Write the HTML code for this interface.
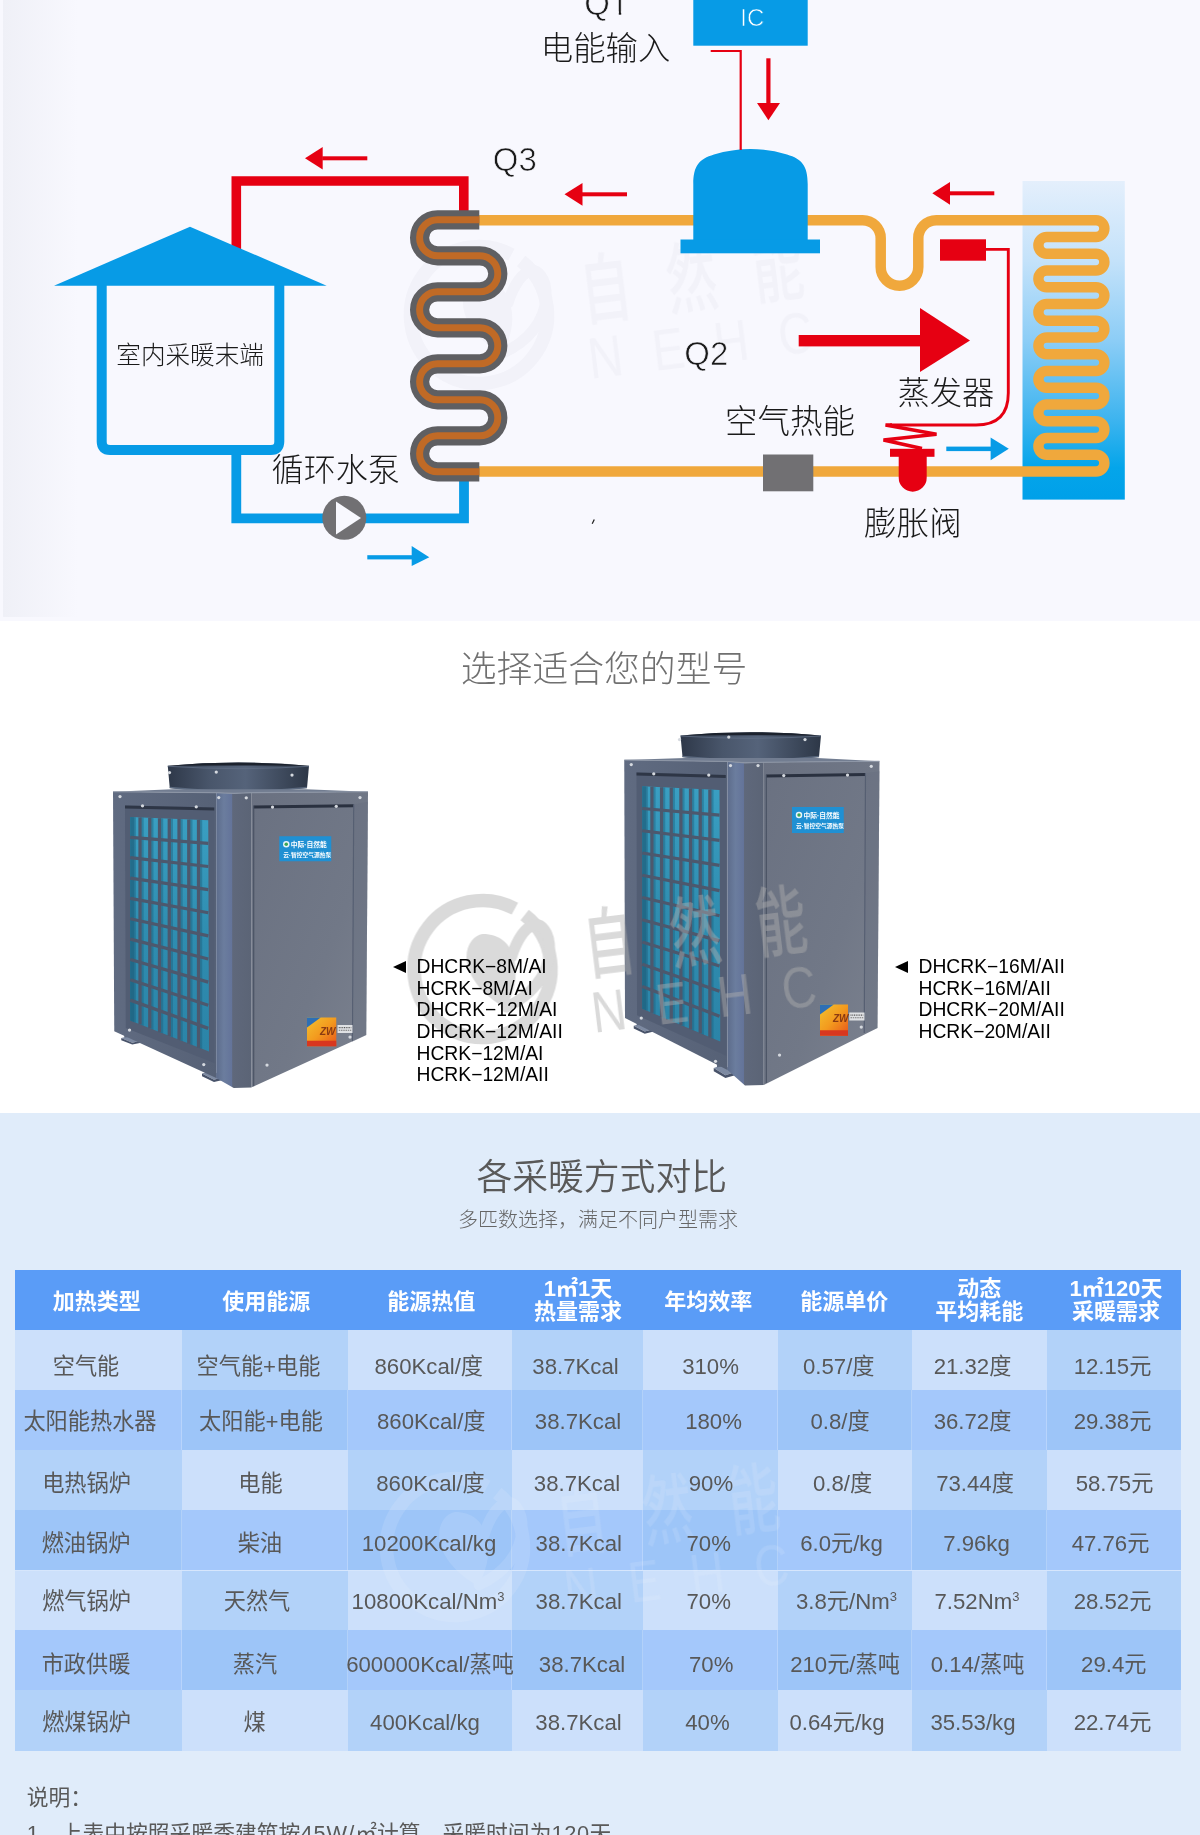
<!DOCTYPE html>
<html lang="zh-CN"><head><meta charset="utf-8"><title>空气能热泵采暖</title>
<style>
html,body{margin:0;padding:0}
body{width:1200px;height:1835px;position:relative;overflow:hidden;background:#fff;font-family:"Liberation Sans", "Noto Sans CJK SC", sans-serif;}
.sec{position:absolute;left:0;width:1200px;overflow:hidden}
#s1{top:0;height:621px;background:#f8f8fe}
#s2{top:621px;height:491px;background:#fff}
#s3{top:1112px;height:723px;background:#e0ecfa}
.ttl{position:absolute;left:0;width:1200px;text-align:center;font-weight:350;white-space:nowrap}
.mdl{position:absolute;font-size:19.3px;line-height:20px;color:#000;white-space:nowrap;font-family:"Liberation Sans", "Noto Sans CJK SC", sans-serif}
.tri{position:absolute;width:0;height:0;border-top:6.2px solid transparent;border-bottom:6.2px solid transparent;border-right:13.3px solid #000}
.th{position:absolute;width:200px;height:60px;display:flex;align-items:center;justify-content:center;text-align:center;color:#fff;font-weight:700;font-size:22px;line-height:22.6px;white-space:nowrap}
.th span{display:block;position:relative;top:1.8px}
.th span.two{top:0.5px}
.td{position:absolute;width:220px;height:40px;line-height:40px;text-align:center;color:#585858;font-size:22.2px;white-space:nowrap}
.td sup{font-size:13px;line-height:0;vertical-align:8px}
.note{position:absolute;left:26.7px;font-size:21.8px;color:#595959;white-space:nowrap;line-height:30px}
</style></head>
<body>
<div class="sec" id="s1">
<svg width="1200" height="621" viewBox="0 0 1200 621" style="position:absolute;left:0;top:0"><g transform="translate(479,315)" fill="#a0a0b0" stroke="none" opacity="0.065">
<circle cx="0" cy="0" r="68.5" fill="none" stroke="#a0a0b0" stroke-width="13.5" stroke-dasharray="418 12" transform="rotate(-52)"/>
<path d="M0,-35 C-8,-34 -16,-25 -16,-12 C-16,5 -2,25 23,39 C34,20 36,0 30,-14 C27,-25 18,-35 0,-35 Z"/>
<path d="M24,38 C48,27 66,7 67,-18 C68,-38 58,-46 51,-44 C42,-41 34,-28 29,-12" fill="none" stroke="#a0a0b0" stroke-width="11" stroke-linecap="round"/>
<g transform="rotate(-7)">
<text transform="scale(1,1.5)" x="103.5" y="11.3" font-size="51" letter-spacing="35.5" font-weight="500" font-family="Liberation Sans, Noto Sans CJK SC, sans-serif">自然能</text>
<text transform="scale(1,1.2)" x="103" y="64.4" font-size="48" letter-spacing="30.1" font-family="Liberation Sans, Noto Sans CJK SC, sans-serif">NEHC</text>
</g>
</g></svg>
<svg width="1200" height="621" viewBox="0 0 1200 621" style="position:absolute;left:0;top:0">
<defs><linearGradient id="evg" x1="0" y1="0" x2="0" y2="1"><stop offset="0" stop-color="#e4effc"/><stop offset="0.25" stop-color="#c4e2fa"/><stop offset="0.5" stop-color="#8ccdf6"/><stop offset="0.75" stop-color="#3db4ef"/><stop offset="0.9" stop-color="#04a5ea"/><stop offset="1" stop-color="#00a0e9"/></linearGradient><linearGradient id="lg" x1="0" y1="0" x2="1" y2="0"><stop offset="0" stop-color="#eff0f7"/><stop offset="1" stop-color="#f8f8fe"/></linearGradient></defs>
<rect x="3" y="0" width="75" height="617" fill="url(#lg)"/>
<rect x="1022.5" y="181" width="102.3" height="318.6" fill="url(#evg)"/>
<path d="M479,220.20 H862.7 A18,18 0 0 1 880.7,238.20 V267 A18.8,18.8 0 0 0 918.3,267 V238.20 A18,18 0 0 1 936.3,220.20 H1096.0 A8.37,8.37 0 0 1 1096.0,236.95 H1046.8 A8.37,8.37 0 0 0 1046.8,253.69 H1096.0 A8.37,8.37 0 0 1 1096.0,270.44 H1046.8 A8.37,8.37 0 0 0 1046.8,287.19 H1096.0 A8.37,8.37 0 0 1 1096.0,303.93 H1046.8 A8.37,8.37 0 0 0 1046.8,320.68 H1096.0 A8.37,8.37 0 0 1 1096.0,337.43 H1046.8 A8.37,8.37 0 0 0 1046.8,354.17 H1096.0 A8.37,8.37 0 0 1 1096.0,370.92 H1046.8 A8.37,8.37 0 0 0 1046.8,387.67 H1096.0 A8.37,8.37 0 0 1 1096.0,404.41 H1046.8 A8.37,8.37 0 0 0 1046.8,421.16 H1096.0 A8.37,8.37 0 0 1 1096.0,437.91 H1046.8 A8.37,8.37 0 0 0 1046.8,454.65 H1096.0 A8.37,8.37 0 0 1 1096.0,471.40 H479" fill="none" stroke="#f0a83c" stroke-width="10.5"/>
<path d="M236.3,262 V181 H463.8 V212" fill="none" stroke="#e60012" stroke-width="9.6" stroke-linejoin="miter"/>
<path d="M236.3,452 V518.4 H464 V480" fill="none" stroke="#079be6" stroke-width="9.8" stroke-linejoin="miter"/>
<path d="M479.3,219.80 H437.6 A18,18 0 0 0 437.6,255.80 H479.8 A18,18 0 0 1 479.8,291.80 H437.6 A18,18 0 0 0 437.6,327.80 H479.8 A18,18 0 0 1 479.8,363.80 H437.6 A18,18 0 0 0 437.6,399.80 H479.8 A18,18 0 0 1 479.8,435.80 H437.6 A18,18 0 0 0 437.6,471.80 H479.3" fill="none" stroke="#5f5f62" stroke-width="19.2"/>
<path d="M479.3,219.80 H437.6 A18,18 0 0 0 437.6,255.80 H479.8 A18,18 0 0 1 479.8,291.80 H437.6 A18,18 0 0 0 437.6,327.80 H479.8 A18,18 0 0 1 479.8,363.80 H437.6 A18,18 0 0 0 437.6,399.80 H479.8 A18,18 0 0 1 479.8,435.80 H437.6 A18,18 0 0 0 437.6,471.80 H479.3" fill="none" stroke="#c06a26" stroke-width="7"/>
<path d="M101.7,284 V441.5 Q101.7,450 110.2,450 H270.8 Q279.3,450 279.3,441.5 V284" fill="none" stroke="#079be6" stroke-width="10"/>
<polygon points="190,226.7 54,285.7 326.7,285.7" fill="#079be6"/>
<circle cx="344.3" cy="517.8" r="22" fill="#717073"/><polygon points="336,501.5 336,534.5 361,518" fill="#f8f8fe"/>
<rect x="693.3" y="0" width="114.4" height="45.7" fill="#079be6"/>
<path d="M693.3,240 V184 C693.3,166 699,159 714,154.5 Q750.5,143.5 787,154.5 C802,159 807.7,166 807.7,184 V240 Z" fill="#079be6"/>
<rect x="680.5" y="239.5" width="139.5" height="13.8" fill="#079be6"/>
<path d="M710.7,51 H740.7 V150" fill="none" stroke="#e60012" stroke-width="2.2"/>
<rect x="766.3" y="58.3" width="4.2" height="46" fill="#e60012"/><polygon points="757,103 780,103 768.4,120.3" fill="#e60012"/>
<polygon fill="#e60012" points="305,158.3 322.7,147.10000000000002 322.7,169.5"/><rect fill="#e60012" x="322.2" y="156.3" width="45.10000000000002" height="4"/>
<polygon fill="#e60012" points="564.5,194.3 582.5,182.9 582.5,205.70000000000002"/><rect fill="#e60012" x="582.0" y="192.3" width="45.0" height="4"/>
<polygon fill="#e60012" points="932.3,193.3 950,181.9 950,204.70000000000002"/><rect fill="#e60012" x="949.5" y="191.3" width="44.799999999999955" height="4"/>
<rect x="367.3" y="555.2" width="45" height="4.2" fill="#079be6"/><polygon points="411.7,546 411.7,566 429.3,557.3" fill="#079be6"/>
<rect x="946.3" y="446.6" width="45" height="4.5" fill="#079be6"/><polygon points="990.6,437.5 990.6,460.3 1008.8,448.8" fill="#079be6"/>
<rect x="798.7" y="335" width="122" height="11.4" fill="#e60012"/><polygon points="920,308 920,372 970,340.5" fill="#e60012"/>
<rect x="940" y="239.3" width="46" height="21.4" fill="#e60012"/>
<path d="M986,249.4 H1008.3 V393 Q1008.3,425 976,425 H890" fill="none" stroke="#e60012" stroke-width="2.9" stroke-linejoin="miter"/>
<path d="M892,425 H885.5 L936.5,434.2 L883.5,440 L922,448.6" fill="none" stroke="#e60012" stroke-width="3.6" stroke-linejoin="miter"/>
<rect x="890" y="448.8" width="44.5" height="8" fill="#e60012"/><path d="M898.7,456 V477.7 A14,14 0 0 0 926.7,477.7 V456 Z" fill="#e60012"/>
<rect x="763" y="454.5" width="50.3" height="36.8" fill="#717073"/>
<path d="M594.3,519.5 L592.2,523.8" stroke="#222" stroke-width="1.3" fill="none"/>
<text x="584.3" y="15" font-size="33" font-family="Liberation Sans, Noto Sans CJK SC, sans-serif" fill="#1a1a1a" stroke="#f8f8fe" stroke-width="0.7">Q1</text>
<rect x="612" y="11.4" width="6.8" height="4.8" fill="#f8f8fe"/><rect x="621.2" y="11.4" width="6.6" height="4.8" fill="#f8f8fe"/>
<text x="492.8" y="171.3" font-size="33" font-family="Liberation Sans, Noto Sans CJK SC, sans-serif" fill="#1a1a1a" stroke="#f8f8fe" stroke-width="0.7">Q3</text>
<text x="684.3" y="364.5" font-size="33" font-family="Liberation Sans, Noto Sans CJK SC, sans-serif" fill="#1a1a1a" stroke="#f8f8fe" stroke-width="0.7">Q2</text>
<text x="540.8" y="59.9" font-size="32.4" font-family="Liberation Sans, Noto Sans CJK SC, sans-serif" fill="#1a1a1a" font-weight="300">电能输入</text>
<text x="116.3" y="363.6" font-size="24.6" font-family="Liberation Sans, Noto Sans CJK SC, sans-serif" fill="#1a1a1a" font-weight="300">室内采暖末端</text>
<text x="271.6" y="481.3" font-size="32.1" font-family="Liberation Sans, Noto Sans CJK SC, sans-serif" fill="#1a1a1a" font-weight="300">循环水泵</text>
<text x="724.9" y="433.2" font-size="32.5" font-family="Liberation Sans, Noto Sans CJK SC, sans-serif" fill="#1a1a1a" font-weight="300">空气热能</text>
<text x="897.5" y="403.6" font-size="32.3" font-family="Liberation Sans, Noto Sans CJK SC, sans-serif" fill="#1a1a1a" font-weight="300">蒸发器</text>
<text x="864" y="534.6" font-size="32.6" font-family="Liberation Sans, Noto Sans CJK SC, sans-serif" fill="#1a1a1a" font-weight="300">膨胀阀</text>
<text x="752.3" y="26.2" font-size="24" text-anchor="middle" fill="#fff" stroke="#079be6" stroke-width="0.6" font-family="Liberation Sans, Noto Sans CJK SC, sans-serif">IC</text>
</svg>
</div>
<div class="sec" id="s2">
<div class="ttl" style="top:22.500000000000046px;left:4px;font-size:35.8px;line-height:52px;color:#707070;font-weight:300">选择适合您的型号</div>
<svg width="1200" height="491" viewBox="0 621 1200 491" style="position:absolute;left:0;top:0"><g transform="translate(90,740) scale(0.25)">
<defs>
<linearGradient id="u1L" x1="0" y1="0" x2="1" y2="0"><stop offset="0" stop-color="#606b81"/><stop offset="1" stop-color="#566176"/></linearGradient>
<linearGradient id="u1R" x1="0" y1="0" x2="1" y2="1"><stop offset="0" stop-color="#6a7181"/><stop offset="0.6" stop-color="#717887"/><stop offset="1" stop-color="#7c828f"/></linearGradient>
<linearGradient id="u1P" x1="0" y1="0" x2="1" y2="0"><stop offset="0" stop-color="#5d6c8b"/><stop offset="0.22" stop-color="#6b7d9e"/><stop offset="0.44" stop-color="#64749a"/><stop offset="0.47" stop-color="#5f687b"/><stop offset="1" stop-color="#5b6476"/></linearGradient>
<linearGradient id="u1F" x1="0" y1="0" x2="1" y2="0"><stop offset="0" stop-color="#2e3849"/><stop offset="0.3" stop-color="#49566b"/><stop offset="0.55" stop-color="#55637a"/><stop offset="0.8" stop-color="#3f4b5e"/><stop offset="1" stop-color="#2d3747"/></linearGradient>
<linearGradient id="u1G" x1="0" y1="0" x2="0" y2="1"><stop offset="0" stop-color="#3a9fc2"/><stop offset="0.5" stop-color="#2f8db0"/><stop offset="1" stop-color="#2b84a8"/></linearGradient>
<linearGradient id="u1S" x1="0" y1="0" x2="1" y2="1"><stop offset="0" stop-color="#f2c230"/><stop offset="0.5" stop-color="#f39a1e"/><stop offset="1" stop-color="#e9541a"/></linearGradient>
</defs>
<polygon points="125.0,1191.8 161.0,1183.0 205.0,1202.2 169.0,1211.0" fill="#7d8aa2"/>
<polygon points="125.0,1191.8 169.0,1211.0 205.0,1202.2 205.0,1211.0 169.0,1218.0 125.0,1200.5" fill="#48536a"/>
<polygon points="137.0,1170.8 161.0,1167.2 161.0,1188.2 137.0,1190.0" fill="#5a667d"/>
<polygon points="448.0,1333.5 487.1,1322.0 535.0,1347.3 495.9,1358.8" fill="#7d8aa2"/>
<polygon points="448.0,1333.5 495.9,1358.8 535.0,1347.3 535.0,1358.8 495.9,1368.0 448.0,1345.0" fill="#48536a"/>
<polygon points="461.1,1305.9 487.1,1301.3 487.1,1328.9 461.1,1331.2" fill="#5a667d"/>
<path d="M311,103 L319,192 Q593.5,222 868,192 L876,103 Q593.5,77 311,103 Z" fill="url(#u1F)"/>
<path d="M311,103 Q593.5,77 876,103 Q593.5,101 311,103 Z" fill="#1c222d"/>
<path d="M311,105 Q593.5,123 876,105" fill="none" stroke="#5f6d83" stroke-width="5" opacity="0.8"/>
<path d="M319,190 Q593.5,220 868,190" fill="none" stroke="#5a687e" stroke-width="6"/>
<polygon points="92.0,207.0 330.0,197.0 862.0,197.0 1112.0,207.0 645.0,211.0 575.0,213.0 505.0,211.0" fill="#727d91"/>
<polygon points="92.0,207.0 505.0,211.0 505.0,1352.0 97.0,1165.0" fill="url(#u1L)"/>
<polygon points="505.0,211.0 575.0,213.0 645.0,211.0 645.0,1390.0 575.0,1392.0 505.0,1352.0" fill="url(#u1P)"/>
<polygon points="645.0,211.0 1112.0,207.0 1105.0,1180.0 645.0,1390.0" fill="url(#u1R)"/>
<polyline points="92.0,207.0 505.0,211.0 575.0,213.0 645.0,211.0 1112.0,207.0" fill="none" stroke="#8d96a6" stroke-width="5"/>
<polygon points="655.0,262.0 1055.0,257.0 1055.0,269.0 655.0,274.0" fill="#2a3140"/>
<polyline points="1055.0,257.0 1050.0,1205.0" fill="none" stroke="#565f72" stroke-width="5"/>
<polyline points="655.0,262.0 655.0,1385.0" fill="none" stroke="#434c5e" stroke-width="4"/>
<polygon points="1059.0,257.0 1112.0,247.0 1105.0,1180.0 1054.0,1205.0" fill="#646c7e" opacity="0.35"/>
<polygon points="140.0,262.0 497.0,270.0 497.0,1292.0 143.0,1152.0" fill="#525d73"/>
<polygon points="140.0,262.0 497.0,270.0 497.0,282.0 140.0,274.0" fill="#2e3646"/>
<polygon points="161.0,308.0 473.0,321.0 476.0,1246.0 161.0,1122.0" fill="url(#u1G)"/>
<polygon points="161.0,308.0 183.0,308.9 183.0,1130.7 161.0,1122.0" fill="#1f5f7c" opacity="0.55"/>
<polygon points="161.0,308.0 175.8,308.6 175.8,1127.9 161.0,1122.0" fill="#1d5f7d" opacity="0.45"/>
<polygon points="200.0,309.6 214.8,310.2 214.8,1143.4 200.0,1137.5" fill="#1d5f7d" opacity="0.45"/>
<polygon points="239.0,311.2 253.8,311.9 253.8,1158.9 239.0,1153.0" fill="#1d5f7d" opacity="0.45"/>
<polygon points="278.0,312.9 292.8,313.5 292.8,1174.4 278.0,1168.5" fill="#1d5f7d" opacity="0.45"/>
<polygon points="317.0,314.5 331.8,315.1 331.8,1189.9 317.0,1184.0" fill="#1d5f7d" opacity="0.45"/>
<polygon points="356.0,316.1 370.8,316.7 370.8,1205.4 356.0,1199.5" fill="#1d5f7d" opacity="0.45"/>
<polygon points="395.0,317.8 409.8,318.4 409.8,1220.9 395.0,1215.0" fill="#1d5f7d" opacity="0.45"/>
<polygon points="434.0,319.4 448.8,320.0 448.8,1236.4 434.0,1230.5" fill="#1d5f7d" opacity="0.45"/>
<line x1="200.0" y1="309.6" x2="200.0" y2="1137.5" stroke="#4d586d" stroke-width="13"/>
<line x1="239.0" y1="311.2" x2="239.0" y2="1153.0" stroke="#4d586d" stroke-width="13"/>
<line x1="278.0" y1="312.9" x2="278.0" y2="1168.5" stroke="#4d586d" stroke-width="13"/>
<line x1="317.0" y1="314.5" x2="317.0" y2="1184.0" stroke="#4d586d" stroke-width="13"/>
<line x1="356.0" y1="316.1" x2="356.0" y2="1199.5" stroke="#4d586d" stroke-width="13"/>
<line x1="395.0" y1="317.8" x2="395.0" y2="1215.0" stroke="#4d586d" stroke-width="13"/>
<line x1="434.0" y1="319.4" x2="434.0" y2="1230.5" stroke="#4d586d" stroke-width="13"/>
<line x1="161" y1="389.4" x2="473" y2="413.5" stroke="#4d586d" stroke-width="13"/>
<line x1="161" y1="470.8" x2="473" y2="506.0" stroke="#4d586d" stroke-width="13"/>
<line x1="161" y1="552.2" x2="473" y2="598.5" stroke="#4d586d" stroke-width="13"/>
<line x1="161" y1="633.6" x2="473" y2="691.0" stroke="#4d586d" stroke-width="13"/>
<line x1="161" y1="715.0" x2="473" y2="783.5" stroke="#4d586d" stroke-width="13"/>
<line x1="161" y1="796.4" x2="473" y2="876.0" stroke="#4d586d" stroke-width="13"/>
<line x1="161" y1="877.8" x2="473" y2="968.5" stroke="#4d586d" stroke-width="13"/>
<line x1="161" y1="959.2" x2="473" y2="1061.0" stroke="#4d586d" stroke-width="13"/>
<line x1="161" y1="1040.6" x2="473" y2="1153.5" stroke="#4d586d" stroke-width="13"/>
<rect x="757" y="385" width="208" height="100" fill="#1f90d3"/>
<circle cx="785" cy="417" r="13" fill="#e8f4fb"/><circle cx="785" cy="417" r="7" fill="#3aa655"/>
<text x="803" y="427" font-size="27" font-weight="700" fill="#fff" font-family="Liberation Sans, Noto Sans CJK SC, sans-serif">中际·自然能</text>
<text x="773" y="469" font-size="23" font-weight="700" fill="#fff" font-family="Liberation Sans, Noto Sans CJK SC, sans-serif">云·智控空气源热泵</text>
<rect x="868" y="1110" width="117" height="115" fill="url(#u1S)"/>
<polygon points="868.0,1110.0 923.0,1110.0 868.0,1150.0" fill="#2d6fb5"/>
<rect x="868" y="1203" width="117" height="22" fill="#d8371f"/>
<text x="920" y="1178" font-size="40" font-weight="700" font-style="italic" fill="#8a3a12" font-family="Liberation Sans, Noto Sans CJK SC, sans-serif">ZW</text>
<rect x="990" y="1140" width="60" height="32" fill="#dfe1e4"/>
<line x1="995" y1="1150" x2="1045" y2="1150" stroke="#555" stroke-width="5" stroke-dasharray="4 3"/>
<line x1="995" y1="1161" x2="1045" y2="1161" stroke="#777" stroke-width="4" stroke-dasharray="6 3"/>
<circle cx="120" cy="226" r="6.5" fill="#d5d9df"/>
<circle cx="515" cy="230" r="6.5" fill="#d5d9df"/>
<circle cx="625" cy="231" r="6.5" fill="#d5d9df"/>
<circle cx="1080" cy="230" r="6.5" fill="#d5d9df"/>
<circle cx="210" cy="263" r="6.5" fill="#d5d9df"/>
<circle cx="425" cy="267" r="6.5" fill="#d5d9df"/>
<circle cx="730" cy="268" r="6.5" fill="#d5d9df"/>
<circle cx="985" cy="265" r="6.5" fill="#d5d9df"/>
<circle cx="505" cy="128" r="6.5" fill="#d5d9df"/>
<circle cx="808" cy="140" r="6.5" fill="#d5d9df"/>
<circle cx="318" cy="130" r="6.5" fill="#d5d9df"/>
<circle cx="158" cy="1160" r="6.5" fill="#d5d9df"/>
<circle cx="455" cy="1298" r="6.5" fill="#d5d9df"/>
<circle cx="708" cy="1300" r="6.5" fill="#d5d9df"/>
<circle cx="1040" cy="1188" r="6.5" fill="#d5d9df"/>
</g><g transform="translate(600,710) scale(0.25)">
<defs>
<linearGradient id="u2L" x1="0" y1="0" x2="1" y2="0"><stop offset="0" stop-color="#606b81"/><stop offset="1" stop-color="#566176"/></linearGradient>
<linearGradient id="u2R" x1="0" y1="0" x2="1" y2="1"><stop offset="0" stop-color="#6a7181"/><stop offset="0.6" stop-color="#717887"/><stop offset="1" stop-color="#7c828f"/></linearGradient>
<linearGradient id="u2P" x1="0" y1="0" x2="1" y2="0"><stop offset="0" stop-color="#5d6c8b"/><stop offset="0.22" stop-color="#6b7d9e"/><stop offset="0.44" stop-color="#64749a"/><stop offset="0.47" stop-color="#5f687b"/><stop offset="1" stop-color="#5b6476"/></linearGradient>
<linearGradient id="u2F" x1="0" y1="0" x2="1" y2="0"><stop offset="0" stop-color="#2e3849"/><stop offset="0.3" stop-color="#49566b"/><stop offset="0.55" stop-color="#55637a"/><stop offset="0.8" stop-color="#3f4b5e"/><stop offset="1" stop-color="#2d3747"/></linearGradient>
<linearGradient id="u2G" x1="0" y1="0" x2="0" y2="1"><stop offset="0" stop-color="#3a9fc2"/><stop offset="0.5" stop-color="#2f8db0"/><stop offset="1" stop-color="#2b84a8"/></linearGradient>
<linearGradient id="u2S" x1="0" y1="0" x2="1" y2="1"><stop offset="0" stop-color="#f2c230"/><stop offset="0.5" stop-color="#f39a1e"/><stop offset="1" stop-color="#e9541a"/></linearGradient>
</defs>
<polygon points="135.0,1262.8 171.0,1252.0 215.0,1275.7 179.0,1286.4" fill="#7d8aa2"/>
<polygon points="135.0,1262.8 179.0,1286.4 215.0,1275.7 215.0,1286.4 179.0,1295.0 135.0,1273.5" fill="#48536a"/>
<polygon points="147.0,1237.0 171.0,1232.7 171.0,1258.5 147.0,1260.6" fill="#5a667d"/>
<polygon points="455.0,1431.5 493.2,1418.0 540.0,1447.7 501.8,1461.2" fill="#7d8aa2"/>
<polygon points="455.0,1431.5 501.8,1461.2 540.0,1447.7 540.0,1461.2 501.8,1472.0 455.0,1445.0" fill="#48536a"/>
<polygon points="467.8,1399.1 493.2,1393.7 493.2,1426.1 467.8,1428.8" fill="#5a667d"/>
<path d="M322,102 L330,188 Q603.0,218 876,188 L884,102 Q603.0,76 322,102 Z" fill="url(#u2F)"/>
<path d="M322,102 Q603.0,76 884,102 Q603.0,100 322,102 Z" fill="#1c222d"/>
<path d="M322,104 Q603.0,122 884,104" fill="none" stroke="#5f6d83" stroke-width="5" opacity="0.8"/>
<path d="M330,186 Q603.0,216 876,186" fill="none" stroke="#5a687e" stroke-width="6"/>
<polygon points="97.0,200.0 340.0,192.0 868.0,192.0 1118.0,205.0 655.0,209.0 580.0,211.0 510.0,206.0" fill="#727d91"/>
<polygon points="97.0,200.0 510.0,206.0 510.0,1440.0 100.0,1232.0" fill="url(#u2L)"/>
<polygon points="510.0,206.0 580.0,211.0 655.0,209.0 655.0,1500.0 580.0,1502.0 510.0,1440.0" fill="url(#u2P)"/>
<polygon points="655.0,209.0 1118.0,205.0 1110.0,1272.0 655.0,1500.0" fill="url(#u2R)"/>
<polyline points="97.0,200.0 510.0,206.0 580.0,211.0 655.0,209.0 1118.0,205.0" fill="none" stroke="#8d96a6" stroke-width="5"/>
<polygon points="665.0,258.0 1062.0,252.0 1062.0,264.0 665.0,270.0" fill="#2a3140"/>
<polyline points="1062.0,252.0 1057.0,1292.0" fill="none" stroke="#565f72" stroke-width="5"/>
<polyline points="665.0,258.0 665.0,1492.0" fill="none" stroke="#434c5e" stroke-width="4"/>
<polygon points="1066.0,252.0 1118.0,245.0 1110.0,1272.0 1061.0,1292.0" fill="#646c7e" opacity="0.35"/>
<polygon points="146.0,250.0 503.0,260.0 505.0,1383.0 148.0,1221.0" fill="#525d73"/>
<polygon points="146.0,250.0 503.0,260.0 503.0,272.0 146.0,262.0" fill="#2e3646"/>
<polygon points="169.0,305.0 478.0,320.0 481.0,1326.0 169.0,1195.0" fill="url(#u2G)"/>
<polygon points="169.0,305.0 191.0,306.1 191.0,1204.3 169.0,1195.0" fill="#1f5f7c" opacity="0.55"/>
<polygon points="169.0,305.0 183.7,305.7 183.7,1201.2 169.0,1195.0" fill="#1d5f7d" opacity="0.45"/>
<polygon points="207.6,306.9 222.3,307.6 222.3,1217.6 207.6,1211.4" fill="#1d5f7d" opacity="0.45"/>
<polygon points="246.2,308.8 260.9,309.5 260.9,1234.0 246.2,1227.8" fill="#1d5f7d" opacity="0.45"/>
<polygon points="284.9,310.6 299.6,311.3 299.6,1250.3 284.9,1244.1" fill="#1d5f7d" opacity="0.45"/>
<polygon points="323.5,312.5 338.2,313.2 338.2,1266.7 323.5,1260.5" fill="#1d5f7d" opacity="0.45"/>
<polygon points="362.1,314.4 376.8,315.1 376.8,1283.1 362.1,1276.9" fill="#1d5f7d" opacity="0.45"/>
<polygon points="400.8,316.2 415.4,317.0 415.4,1299.5 400.8,1293.2" fill="#1d5f7d" opacity="0.45"/>
<polygon points="439.4,318.1 454.1,318.8 454.1,1315.8 439.4,1309.6" fill="#1d5f7d" opacity="0.45"/>
<line x1="207.6" y1="306.9" x2="207.6" y2="1211.4" stroke="#4d586d" stroke-width="13"/>
<line x1="246.2" y1="308.8" x2="246.2" y2="1227.8" stroke="#4d586d" stroke-width="13"/>
<line x1="284.9" y1="310.6" x2="284.9" y2="1244.1" stroke="#4d586d" stroke-width="13"/>
<line x1="323.5" y1="312.5" x2="323.5" y2="1260.5" stroke="#4d586d" stroke-width="13"/>
<line x1="362.1" y1="314.4" x2="362.1" y2="1276.9" stroke="#4d586d" stroke-width="13"/>
<line x1="400.8" y1="316.2" x2="400.8" y2="1293.2" stroke="#4d586d" stroke-width="13"/>
<line x1="439.4" y1="318.1" x2="439.4" y2="1309.6" stroke="#4d586d" stroke-width="13"/>
<line x1="169" y1="394.0" x2="478" y2="420.6" stroke="#4d586d" stroke-width="13"/>
<line x1="169" y1="483.0" x2="478" y2="521.2" stroke="#4d586d" stroke-width="13"/>
<line x1="169" y1="572.0" x2="478" y2="621.8" stroke="#4d586d" stroke-width="13"/>
<line x1="169" y1="661.0" x2="478" y2="722.4" stroke="#4d586d" stroke-width="13"/>
<line x1="169" y1="750.0" x2="478" y2="823.0" stroke="#4d586d" stroke-width="13"/>
<line x1="169" y1="839.0" x2="478" y2="923.6" stroke="#4d586d" stroke-width="13"/>
<line x1="169" y1="928.0" x2="478" y2="1024.2" stroke="#4d586d" stroke-width="13"/>
<line x1="169" y1="1017.0" x2="478" y2="1124.8" stroke="#4d586d" stroke-width="13"/>
<line x1="169" y1="1106.0" x2="478" y2="1225.4" stroke="#4d586d" stroke-width="13"/>
<rect x="768" y="388" width="207" height="104" fill="#1f90d3"/>
<circle cx="796" cy="420" r="13" fill="#e8f4fb"/><circle cx="796" cy="420" r="7" fill="#3aa655"/>
<text x="814" y="430" font-size="27" font-weight="700" fill="#fff" font-family="Liberation Sans, Noto Sans CJK SC, sans-serif">中际·自然能</text>
<text x="784" y="472" font-size="23" font-weight="700" fill="#fff" font-family="Liberation Sans, Noto Sans CJK SC, sans-serif">云·智控空气源热泵</text>
<rect x="880" y="1178" width="112" height="125" fill="url(#u2S)"/>
<polygon points="880.0,1178.0 935.0,1178.0 880.0,1218.0" fill="#2d6fb5"/>
<rect x="880" y="1281" width="112" height="22" fill="#d8371f"/>
<text x="932" y="1246" font-size="40" font-weight="700" font-style="italic" fill="#8a3a12" font-family="Liberation Sans, Noto Sans CJK SC, sans-serif">ZW</text>
<rect x="997" y="1210" width="61" height="32" fill="#dfe1e4"/>
<line x1="1002" y1="1220" x2="1053" y2="1220" stroke="#555" stroke-width="5" stroke-dasharray="4 3"/>
<line x1="1002" y1="1231" x2="1053" y2="1231" stroke="#777" stroke-width="4" stroke-dasharray="6 3"/>
<circle cx="125" cy="218" r="6.5" fill="#d5d9df"/>
<circle cx="522" cy="222" r="6.5" fill="#d5d9df"/>
<circle cx="632" cy="222" r="6.5" fill="#d5d9df"/>
<circle cx="1085" cy="225" r="6.5" fill="#d5d9df"/>
<circle cx="215" cy="255" r="6.5" fill="#d5d9df"/>
<circle cx="435" cy="260" r="6.5" fill="#d5d9df"/>
<circle cx="735" cy="262" r="6.5" fill="#d5d9df"/>
<circle cx="990" cy="260" r="6.5" fill="#d5d9df"/>
<circle cx="515" cy="108" r="6.5" fill="#d5d9df"/>
<circle cx="820" cy="118" r="6.5" fill="#d5d9df"/>
<circle cx="318" cy="118" r="6.5" fill="#d5d9df"/>
<circle cx="165" cy="1232" r="6.5" fill="#d5d9df"/>
<circle cx="462" cy="1405" r="6.5" fill="#d5d9df"/>
<circle cx="718" cy="1380" r="6.5" fill="#d5d9df"/>
<circle cx="1045" cy="1268" r="6.5" fill="#d5d9df"/>
</g></svg>
<svg width="1200" height="491" viewBox="0 621 1200 491" style="position:absolute;left:0;top:0"><g transform="translate(482.5,969)" fill="#aeaeae" stroke="none" opacity="0.46">
<circle cx="0" cy="0" r="68.5" fill="none" stroke="#aeaeae" stroke-width="13.5" stroke-dasharray="418 12" transform="rotate(-52)"/>
<path d="M0,-35 C-8,-34 -16,-25 -16,-12 C-16,5 -2,25 23,39 C34,20 36,0 30,-14 C27,-25 18,-35 0,-35 Z"/>
<path d="M24,38 C48,27 66,7 67,-18 C68,-38 58,-46 51,-44 C42,-41 34,-28 29,-12" fill="none" stroke="#aeaeae" stroke-width="11" stroke-linecap="round"/>
<g transform="rotate(-7)">
<text transform="scale(1,1.5)" x="103.5" y="11.3" font-size="51" letter-spacing="35.5" font-weight="500" font-family="Liberation Sans, Noto Sans CJK SC, sans-serif">自然能</text>
<text transform="scale(1,1.2)" x="103" y="64.4" font-size="48" letter-spacing="30.1" font-family="Liberation Sans, Noto Sans CJK SC, sans-serif">NEHC</text>
</g>
</g></svg>
<div class="tri" style="left:392.5px;top:340px"></div>
<div class="mdl" style="left:416.5px;top:336.2px">DHCRK−8M/AI</div>
<div class="mdl" style="left:416.5px;top:357.8px">HCRK−8M/AI</div>
<div class="mdl" style="left:416.5px;top:379.4px">DHCRK−12M/AI</div>
<div class="mdl" style="left:416.5px;top:401.0px">DHCRK−12M/AII</div>
<div class="mdl" style="left:416.5px;top:422.6px">HCRK−12M/AI</div>
<div class="mdl" style="left:416.5px;top:444.2px">HCRK−12M/AII</div>
<div class="tri" style="left:895px;top:340px"></div>
<div class="mdl" style="left:918.5px;top:336.2px">DHCRK−16M/AII</div>
<div class="mdl" style="left:918.5px;top:357.8px">HCRK−16M/AII</div>
<div class="mdl" style="left:918.5px;top:379.4px">DHCRK−20M/AII</div>
<div class="mdl" style="left:918.5px;top:401.0px">HCRK−20M/AII</div>
</div>
<div class="sec" id="s3">
<div style="position:absolute;left:0;top:0;width:1200px;height:1px;background:#fff"></div>
<div class="ttl" style="top:40.40000000000005px;left:1.7px;font-size:35.8px;line-height:52px;color:#595959">各采暖方式对比</div>
<div class="ttl" style="top:92.5px;left:-2px;font-size:20px;line-height:30px;color:#666;font-weight:300">多匹数选择，满足不同户型需求</div>
<div style="position:absolute;left:15px;top:158px;width:1166px;height:60px;background:#5a9cf7"></div>
<div style="position:absolute;left:15px;top:218px;width:166.5px;height:60px;background:#cce0fb"></div>
<div style="position:absolute;left:181.5px;top:218px;width:166.0px;height:60px;background:#b2d2f9"></div>
<div style="position:absolute;left:347.5px;top:218px;width:164.0px;height:60px;background:#cce0fb"></div>
<div style="position:absolute;left:511.5px;top:218px;width:131.0px;height:60px;background:#b2d2f9"></div>
<div style="position:absolute;left:642.5px;top:218px;width:135.0px;height:60px;background:#cce0fb"></div>
<div style="position:absolute;left:777.5px;top:218px;width:134.0px;height:60px;background:#b2d2f9"></div>
<div style="position:absolute;left:911.5px;top:218px;width:135.0px;height:60px;background:#cce0fb"></div>
<div style="position:absolute;left:1046.5px;top:218px;width:134.5px;height:60px;background:#b2d2f9"></div>
<div style="position:absolute;left:15px;top:278px;width:166.5px;height:60px;background:#a4c8fb"></div>
<div style="position:absolute;left:181.5px;top:278px;width:166.0px;height:60px;background:#9dc5f8"></div>
<div style="position:absolute;left:347.5px;top:278px;width:164.0px;height:60px;background:#a4c8fb"></div>
<div style="position:absolute;left:511.5px;top:278px;width:131.0px;height:60px;background:#9dc5f8"></div>
<div style="position:absolute;left:642.5px;top:278px;width:135.0px;height:60px;background:#a4c8fb"></div>
<div style="position:absolute;left:777.5px;top:278px;width:134.0px;height:60px;background:#9dc5f8"></div>
<div style="position:absolute;left:911.5px;top:278px;width:135.0px;height:60px;background:#a4c8fb"></div>
<div style="position:absolute;left:1046.5px;top:278px;width:134.5px;height:60px;background:#9dc5f8"></div>
<div style="position:absolute;left:15px;top:338px;width:166.5px;height:60px;background:#b2d2f9"></div>
<div style="position:absolute;left:181.5px;top:338px;width:166.0px;height:60px;background:#cce0fb"></div>
<div style="position:absolute;left:347.5px;top:338px;width:164.0px;height:60px;background:#b2d2f9"></div>
<div style="position:absolute;left:511.5px;top:338px;width:131.0px;height:60px;background:#cce0fb"></div>
<div style="position:absolute;left:642.5px;top:338px;width:135.0px;height:60px;background:#b2d2f9"></div>
<div style="position:absolute;left:777.5px;top:338px;width:134.0px;height:60px;background:#cce0fb"></div>
<div style="position:absolute;left:911.5px;top:338px;width:135.0px;height:60px;background:#b2d2f9"></div>
<div style="position:absolute;left:1046.5px;top:338px;width:134.5px;height:60px;background:#cce0fb"></div>
<div style="position:absolute;left:15px;top:398px;width:166.5px;height:60px;background:#9dc5f8"></div>
<div style="position:absolute;left:181.5px;top:398px;width:166.0px;height:60px;background:#a4c8fb"></div>
<div style="position:absolute;left:347.5px;top:398px;width:164.0px;height:60px;background:#9dc5f8"></div>
<div style="position:absolute;left:511.5px;top:398px;width:131.0px;height:60px;background:#a4c8fb"></div>
<div style="position:absolute;left:642.5px;top:398px;width:135.0px;height:60px;background:#9dc5f8"></div>
<div style="position:absolute;left:777.5px;top:398px;width:134.0px;height:60px;background:#a4c8fb"></div>
<div style="position:absolute;left:911.5px;top:398px;width:135.0px;height:60px;background:#9dc5f8"></div>
<div style="position:absolute;left:1046.5px;top:398px;width:134.5px;height:60px;background:#a4c8fb"></div>
<div style="position:absolute;left:15px;top:458px;width:166.5px;height:60px;background:#cce0fb"></div>
<div style="position:absolute;left:181.5px;top:458px;width:166.0px;height:60px;background:#b2d2f9"></div>
<div style="position:absolute;left:347.5px;top:458px;width:164.0px;height:60px;background:#cce0fb"></div>
<div style="position:absolute;left:511.5px;top:458px;width:131.0px;height:60px;background:#b2d2f9"></div>
<div style="position:absolute;left:642.5px;top:458px;width:135.0px;height:60px;background:#cce0fb"></div>
<div style="position:absolute;left:777.5px;top:458px;width:134.0px;height:60px;background:#b2d2f9"></div>
<div style="position:absolute;left:911.5px;top:458px;width:135.0px;height:60px;background:#cce0fb"></div>
<div style="position:absolute;left:1046.5px;top:458px;width:134.5px;height:60px;background:#b2d2f9"></div>
<div style="position:absolute;left:15px;top:518px;width:166.5px;height:60px;background:#a4c8fb"></div>
<div style="position:absolute;left:181.5px;top:518px;width:166.0px;height:60px;background:#9dc5f8"></div>
<div style="position:absolute;left:347.5px;top:518px;width:164.0px;height:60px;background:#a4c8fb"></div>
<div style="position:absolute;left:511.5px;top:518px;width:131.0px;height:60px;background:#9dc5f8"></div>
<div style="position:absolute;left:642.5px;top:518px;width:135.0px;height:60px;background:#a4c8fb"></div>
<div style="position:absolute;left:777.5px;top:518px;width:134.0px;height:60px;background:#9dc5f8"></div>
<div style="position:absolute;left:911.5px;top:518px;width:135.0px;height:60px;background:#a4c8fb"></div>
<div style="position:absolute;left:1046.5px;top:518px;width:134.5px;height:60px;background:#9dc5f8"></div>
<div style="position:absolute;left:15px;top:578px;width:166.5px;height:60.5px;background:#b2d2f9"></div>
<div style="position:absolute;left:181.5px;top:578px;width:166.0px;height:60.5px;background:#cce0fb"></div>
<div style="position:absolute;left:347.5px;top:578px;width:164.0px;height:60.5px;background:#b2d2f9"></div>
<div style="position:absolute;left:511.5px;top:578px;width:131.0px;height:60.5px;background:#cce0fb"></div>
<div style="position:absolute;left:642.5px;top:578px;width:135.0px;height:60.5px;background:#b2d2f9"></div>
<div style="position:absolute;left:777.5px;top:578px;width:134.0px;height:60.5px;background:#cce0fb"></div>
<div style="position:absolute;left:911.5px;top:578px;width:135.0px;height:60.5px;background:#b2d2f9"></div>
<div style="position:absolute;left:1046.5px;top:578px;width:134.5px;height:60.5px;background:#cce0fb"></div>
<div style="position:absolute;left:181.0px;top:278px;width:1px;height:60px;background:rgba(255,255,255,0.22)"></div>
<div style="position:absolute;left:347.0px;top:278px;width:1px;height:60px;background:rgba(255,255,255,0.22)"></div>
<div style="position:absolute;left:511.0px;top:278px;width:1px;height:60px;background:rgba(255,255,255,0.22)"></div>
<div style="position:absolute;left:642.0px;top:278px;width:1px;height:60px;background:rgba(255,255,255,0.22)"></div>
<div style="position:absolute;left:777.0px;top:278px;width:1px;height:60px;background:rgba(255,255,255,0.22)"></div>
<div style="position:absolute;left:911.0px;top:278px;width:1px;height:60px;background:rgba(255,255,255,0.22)"></div>
<div style="position:absolute;left:1046.0px;top:278px;width:1px;height:60px;background:rgba(255,255,255,0.22)"></div>
<div style="position:absolute;left:181.0px;top:398px;width:1px;height:60px;background:rgba(255,255,255,0.22)"></div>
<div style="position:absolute;left:347.0px;top:398px;width:1px;height:60px;background:rgba(255,255,255,0.22)"></div>
<div style="position:absolute;left:511.0px;top:398px;width:1px;height:60px;background:rgba(255,255,255,0.22)"></div>
<div style="position:absolute;left:642.0px;top:398px;width:1px;height:60px;background:rgba(255,255,255,0.22)"></div>
<div style="position:absolute;left:777.0px;top:398px;width:1px;height:60px;background:rgba(255,255,255,0.22)"></div>
<div style="position:absolute;left:911.0px;top:398px;width:1px;height:60px;background:rgba(255,255,255,0.22)"></div>
<div style="position:absolute;left:1046.0px;top:398px;width:1px;height:60px;background:rgba(255,255,255,0.22)"></div>
<div style="position:absolute;left:181.0px;top:518px;width:1px;height:60px;background:rgba(255,255,255,0.22)"></div>
<div style="position:absolute;left:347.0px;top:518px;width:1px;height:60px;background:rgba(255,255,255,0.22)"></div>
<div style="position:absolute;left:511.0px;top:518px;width:1px;height:60px;background:rgba(255,255,255,0.22)"></div>
<div style="position:absolute;left:642.0px;top:518px;width:1px;height:60px;background:rgba(255,255,255,0.22)"></div>
<div style="position:absolute;left:777.0px;top:518px;width:1px;height:60px;background:rgba(255,255,255,0.22)"></div>
<div style="position:absolute;left:911.0px;top:518px;width:1px;height:60px;background:rgba(255,255,255,0.22)"></div>
<div style="position:absolute;left:1046.0px;top:518px;width:1px;height:60px;background:rgba(255,255,255,0.22)"></div>
<div style="position:absolute;left:15px;top:458px;width:1166px;height:1px;background:#d6e6fc"></div>
<svg width="1200" height="723" viewBox="0 1112 1200 723" style="position:absolute;left:0;top:0"><g transform="translate(455,1547)" fill="#f2f6fd" stroke="none" opacity="0.13">
<circle cx="0" cy="0" r="68.5" fill="none" stroke="#f2f6fd" stroke-width="13.5" stroke-dasharray="418 12" transform="rotate(-52)"/>
<path d="M0,-35 C-8,-34 -16,-25 -16,-12 C-16,5 -2,25 23,39 C34,20 36,0 30,-14 C27,-25 18,-35 0,-35 Z"/>
<path d="M24,38 C48,27 66,7 67,-18 C68,-38 58,-46 51,-44 C42,-41 34,-28 29,-12" fill="none" stroke="#f2f6fd" stroke-width="11" stroke-linecap="round"/>
<g transform="rotate(-7)">
<text transform="scale(1,1.5)" x="103.5" y="11.3" font-size="51" letter-spacing="35.5" font-weight="500" font-family="Liberation Sans, Noto Sans CJK SC, sans-serif">自然能</text>
<text transform="scale(1,1.2)" x="103" y="64.4" font-size="48" letter-spacing="30.1" font-family="Liberation Sans, Noto Sans CJK SC, sans-serif">NEHC</text>
</g>
</g></svg>
<div class="th" style="left:-3.25px;top:158px"><span>加热类型</span></div>
<div class="th" style="left:166.25px;top:158px"><span>使用能源</span></div>
<div class="th" style="left:331.25px;top:158px"><span>能源热值</span></div>
<div class="th" style="left:478px;top:158px"><span class="two">1㎡1天<br>热量需求</span></div>
<div class="th" style="left:608.3px;top:158px"><span>年均效率</span></div>
<div class="th" style="left:744.2px;top:158px"><span>能源单价</span></div>
<div class="th" style="left:879.25px;top:158px"><span class="two">动态<br>平均耗能</span></div>
<div class="th" style="left:1016px;top:158px"><span class="two">1㎡120天<br>采暖需求</span></div>
<div class="td" style="left:-24px;top:234.5px">空气能</div>
<div class="td" style="left:148.5px;top:234.5px">空气能+电能</div>
<div class="td" style="left:318.75px;top:234.5px">860Kcal/度</div>
<div class="td" style="left:465.5px;top:234.5px">38.7Kcal</div>
<div class="td" style="left:600.5px;top:234.5px">310%</div>
<div class="td" style="left:728.75px;top:234.5px">0.57/度</div>
<div class="td" style="left:862.5px;top:234.5px">21.32度</div>
<div class="td" style="left:1002.5px;top:234.5px">12.15元</div>
<div class="td" style="left:-20px;top:289.5px">太阳能热水器</div>
<div class="td" style="left:151px;top:289.5px">太阳能+电能</div>
<div class="td" style="left:321.25px;top:289.5px">860Kcal/度</div>
<div class="td" style="left:468px;top:289.5px">38.7Kcal</div>
<div class="td" style="left:603.5px;top:289.5px">180%</div>
<div class="td" style="left:730px;top:289.5px">0.8/度</div>
<div class="td" style="left:862.5px;top:289.5px">36.72度</div>
<div class="td" style="left:1002.5px;top:289.5px">29.38元</div>
<div class="td" style="left:-23.5px;top:352px">电热锅炉</div>
<div class="td" style="left:150.5px;top:352px">电能</div>
<div class="td" style="left:320.5px;top:352px">860Kcal/度</div>
<div class="td" style="left:467px;top:352px">38.7Kcal</div>
<div class="td" style="left:601px;top:352px">90%</div>
<div class="td" style="left:732.5px;top:352px">0.8/度</div>
<div class="td" style="left:865px;top:352px">73.44度</div>
<div class="td" style="left:1004.5px;top:352px">58.75元</div>
<div class="td" style="left:-24px;top:412px">燃油锅炉</div>
<div class="td" style="left:150px;top:412px">柴油</div>
<div class="td" style="left:319px;top:412px">10200Kcal/kg</div>
<div class="td" style="left:468.75px;top:412px">38.7Kcal</div>
<div class="td" style="left:598.75px;top:412px">70%</div>
<div class="td" style="left:731.5px;top:412px">6.0元/kg</div>
<div class="td" style="left:866.5px;top:412px">7.96kg</div>
<div class="td" style="left:1000.5px;top:412px">47.76元</div>
<div class="td" style="left:-23.5px;top:469.5px">燃气锅炉</div>
<div class="td" style="left:147px;top:469.5px">天然气</div>
<div class="td" style="left:318px;top:469.5px">10800Kcal/Nm<sup>3</sup></div>
<div class="td" style="left:468.75px;top:469.5px">38.7Kcal</div>
<div class="td" style="left:598.75px;top:469.5px">70%</div>
<div class="td" style="left:736.5px;top:469.5px">3.8元/Nm<sup>3</sup></div>
<div class="td" style="left:867px;top:469.5px">7.52Nm<sup>3</sup></div>
<div class="td" style="left:1002.5px;top:469.5px">28.52元</div>
<div class="td" style="left:-24px;top:533px">市政供暖</div>
<div class="td" style="left:145px;top:533px">蒸汽</div>
<div class="td" style="left:320px;top:533px">600000Kcal/蒸吨</div>
<div class="td" style="left:472px;top:533px">38.7Kcal</div>
<div class="td" style="left:601.25px;top:533px">70%</div>
<div class="td" style="left:735px;top:533px">210元/蒸吨</div>
<div class="td" style="left:867.5px;top:533px">0.14/蒸吨</div>
<div class="td" style="left:1003.75px;top:533px">29.4元</div>
<div class="td" style="left:-23.5px;top:590.5px">燃煤锅炉</div>
<div class="td" style="left:144.5px;top:590.5px">煤</div>
<div class="td" style="left:315px;top:590.5px">400Kcal/kg</div>
<div class="td" style="left:468.5px;top:590.5px">38.7Kcal</div>
<div class="td" style="left:597.5px;top:590.5px">40%</div>
<div class="td" style="left:727px;top:590.5px">0.64元/kg</div>
<div class="td" style="left:863px;top:590.5px">35.53/kg</div>
<div class="td" style="left:1002.5px;top:590.5px">22.74元</div>
<div class="note" style="top:671px">说明：</div>
<div class="note" style="top:706.8px">1、上表中按照采暖季建筑按<span style="letter-spacing:1px">45W/</span>㎡计算，采暖时间为<span style="letter-spacing:0.6px">120</span>天</div>
</div>
</body></html>
